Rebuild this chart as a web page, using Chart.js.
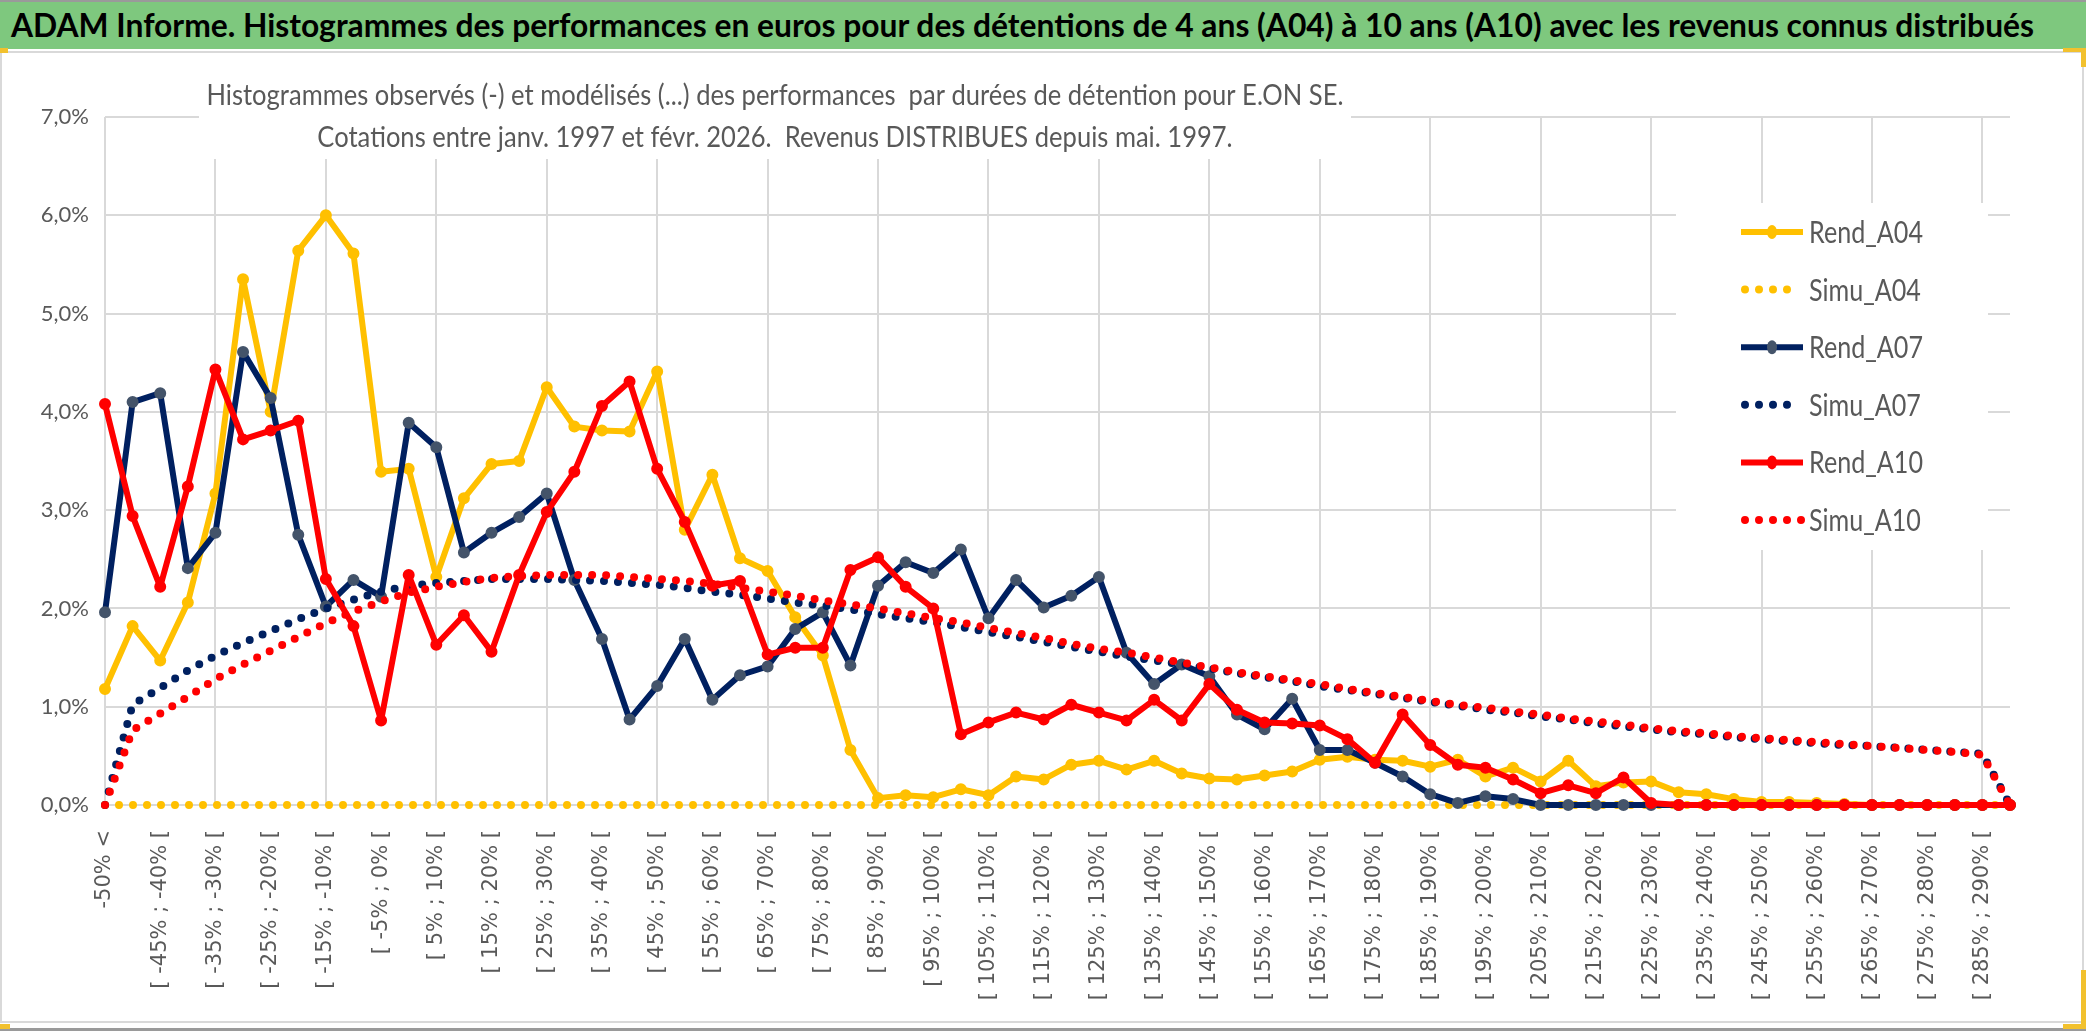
<!DOCTYPE html>
<html lang="fr">
<head>
<meta charset="utf-8">
<title>ADAM Informe - E.ON SE</title>
<script src="https://cdn.jsdelivr.net/npm/chart.js@4.4.1/dist/chart.umd.min.js"></script>
<style>
  body { margin: 0; background: #fff; }
  #page { position: relative; width: 2086px; height: 1031px; overflow: hidden; background: #fff; }
  #head { position: absolute; left: 0; top: 0; width: 2086px; height: 49px; background: #7ec87e;
          border-top: 2px solid #9a9a9a; box-sizing: border-box; }
  #ttl { position: absolute; left: 11px; top: 4px; font: bold 32px Lato, sans-serif; line-height: 38px;
         color: #000; white-space: nowrap; transform-origin: 0 0; }
  #frame { position: absolute; left: 0; top: 51px; width: 2084px; height: 972px;
           border: 2px solid #d9d9d9; box-sizing: border-box; }
  #box { position: relative; width: 2080px; height: 968px; }
  #bottom { position: absolute; left: 0; top: 1028px; width: 2086px; height: 3px; background: #9a9a9a; }
  .hdl { position: absolute; background: #f2c12e; }
</style>
</head>
<body>
<div id="page">
  <div id="head"><span id="ttl">ADAM Informe. Histogrammes des performances en euros pour des détentions de 4 ans (A04) à 10 ans (A10) avec les revenus connus distribués</span></div>
  <div id="frame"><div id="box"><canvas id="chart"></canvas></div></div>
  <div id="bottom"></div>
  <div class="hdl" style="left:0;top:48px;width:8px;height:5px"></div>
  <div class="hdl" style="left:2063px;top:48px;width:23px;height:4px"></div>
  <div class="hdl" style="left:2081px;top:48px;width:5px;height:19px"></div>
  <div class="hdl" style="left:0;top:1024px;width:10px;height:5px"></div>
  <div class="hdl" style="left:2063px;top:1024px;width:23px;height:5px"></div>
  <div class="hdl" style="left:2081px;top:970px;width:5px;height:58px"></div>
</div>
<script>
// classes de performance (axe des x)
const categories = [
  '-50% <', '[ -50% ; -45% [', '[ -45% ; -40% [', '[ -40% ; -35% [', '[ -35% ; -30% [', '[ -30% ; -25% [',
  '[ -25% ; -20% [', '[ -20% ; -15% [', '[ -15% ; -10% [', '[ -10% ; -5% [', '[ -5% ; 0% [',
  '[ 0% ; 5% [', '[ 5% ; 10% [', '[ 10% ; 15% [', '[ 15% ; 20% [', '[ 20% ; 25% [', '[ 25% ; 30% [',
  '[ 30% ; 35% [', '[ 35% ; 40% [', '[ 40% ; 45% [', '[ 45% ; 50% [', '[ 50% ; 55% [', '[ 55% ; 60% [',
  '[ 60% ; 65% [', '[ 65% ; 70% [', '[ 70% ; 75% [', '[ 75% ; 80% [', '[ 80% ; 85% [', '[ 85% ; 90% [',
  '[ 90% ; 95% [', '[ 95% ; 100% [', '[ 100% ; 105% [', '[ 105% ; 110% [', '[ 110% ; 115% [',
  '[ 115% ; 120% [', '[ 120% ; 125% [', '[ 125% ; 130% [', '[ 130% ; 135% [', '[ 135% ; 140% [',
  '[ 140% ; 145% [', '[ 145% ; 150% [', '[ 150% ; 155% [', '[ 155% ; 160% [', '[ 160% ; 165% [',
  '[ 165% ; 170% [', '[ 170% ; 175% [', '[ 175% ; 180% [', '[ 180% ; 185% [', '[ 185% ; 190% [',
  '[ 190% ; 195% [', '[ 195% ; 200% [', '[ 200% ; 205% [', '[ 205% ; 210% [', '[ 210% ; 215% [',
  '[ 215% ; 220% [', '[ 220% ; 225% [', '[ 225% ; 230% [', '[ 230% ; 235% [', '[ 235% ; 240% [',
  '[ 240% ; 245% [', '[ 245% ; 250% [', '[ 250% ; 255% [', '[ 255% ; 260% [', '[ 260% ; 265% [',
  '[ 265% ; 270% [', '[ 270% ; 275% [', '[ 275% ; 280% [', '[ 280% ; 285% [', '[ 285% ; 290% [',
  '[ 290% ; 295% ['
];

// fréquences en %
const rendA04 = [
  1.18, 1.82, 1.47, 2.06, 3.17, 5.35, 4.00, 5.64, 6.00, 5.61,
  3.39, 3.42, 2.32, 3.12, 3.47, 3.50, 4.25, 3.85, 3.81, 3.80,
  4.41, 2.80, 3.36, 2.51, 2.38, 1.91, 1.52, 0.56, 0.07, 0.10,
  0.08, 0.16, 0.10, 0.29, 0.26, 0.41, 0.45, 0.36, 0.45, 0.32,
  0.27, 0.26, 0.30, 0.34, 0.46, 0.49, 0.46, 0.45, 0.39, 0.46,
  0.29, 0.38, 0.24, 0.45, 0.19, 0.23, 0.24, 0.13, 0.11, 0.06,
  0.03, 0.03, 0.02, 0.01, 0, 0, 0, 0, 0, 0
];
const simuA04 = [
  0, 0, 0, 0, 0, 0, 0, 0, 0, 0, 0, 0, 0, 0, 0, 0, 0, 0, 0, 0,
  0, 0, 0, 0, 0, 0, 0, 0, 0, 0, 0, 0, 0, 0, 0, 0, 0, 0, 0, 0,
  0, 0, 0, 0, 0, 0, 0, 0, 0, 0, 0, 0, 0, 0, 0, 0, 0, 0, 0, 0,
  0, 0, 0, 0, 0, 0, 0, 0, 0, 0
];
const rendA07 = [
  1.96, 4.10, 4.19, 2.41, 2.77, 4.61, 4.14, 2.75, 2.02, 2.29,
  2.12, 3.89, 3.64, 2.57, 2.77, 2.93, 3.17, 2.29, 1.69, 0.87,
  1.21, 1.69, 1.07, 1.32, 1.41, 1.79, 1.96, 1.42, 2.23, 2.47,
  2.36, 2.60, 1.90, 2.29, 2.01, 2.13, 2.32, 1.55, 1.23, 1.43,
  1.31, 0.92, 0.77, 1.08, 0.56, 0.56, 0.43, 0.29, 0.11, 0.02,
  0.09, 0.06, 0, 0, 0, 0, 0, 0, 0, 0,
  0, 0, 0, 0, 0, 0, 0, 0, 0, 0
];
const simuA07 = [
  0, 1.02, 1.19, 1.37, 1.52, 1.65, 1.77, 1.89, 2.00, 2.09,
  2.17, 2.23, 2.26, 2.28, 2.30, 2.30, 2.30, 2.29, 2.28, 2.26,
  2.24, 2.21, 2.17, 2.14, 2.10, 2.06, 2.03, 1.99, 1.94, 1.90,
  1.86, 1.81, 1.76, 1.71, 1.66, 1.61, 1.56, 1.51, 1.47, 1.43,
  1.39, 1.34, 1.30, 1.26, 1.21, 1.17, 1.13, 1.09, 1.05, 1.01,
  0.97, 0.94, 0.90, 0.87, 0.83, 0.80, 0.77, 0.74, 0.72, 0.69,
  0.67, 0.65, 0.63, 0.61, 0.60, 0.58, 0.56, 0.54, 0.52, 0
];
const rendA10 = [
  4.08, 2.94, 2.22, 3.24, 4.43, 3.72, 3.81, 3.91, 2.30, 1.82,
  0.86, 2.34, 1.63, 1.93, 1.56, 2.34, 2.98, 3.39, 4.06, 4.31,
  3.42, 2.88, 2.23, 2.28, 1.53, 1.60, 1.60, 2.39, 2.52, 2.22,
  2.00, 0.72, 0.84, 0.94, 0.87, 1.02, 0.94, 0.86, 1.07, 0.86,
  1.23, 0.97, 0.84, 0.83, 0.81, 0.67, 0.43, 0.92, 0.61, 0.41,
  0.38, 0.26, 0.12, 0.20, 0.12, 0.28, 0.02, 0, 0, 0,
  0, 0, 0, 0, 0, 0, 0, 0, 0, 0
];
const simuA10 = [
  0, 0.76, 0.93, 1.10, 1.28, 1.43, 1.57, 1.71, 1.85, 1.97,
  2.07, 2.16, 2.22, 2.27, 2.31, 2.33, 2.34, 2.34, 2.34, 2.32,
  2.30, 2.28, 2.25, 2.21, 2.17, 2.13, 2.08, 2.04, 2.00, 1.95,
  1.90, 1.86, 1.80, 1.75, 1.70, 1.64, 1.59, 1.55, 1.50, 1.45,
  1.40, 1.35, 1.31, 1.27, 1.23, 1.18, 1.14, 1.10, 1.06, 1.02,
  0.99, 0.95, 0.92, 0.88, 0.85, 0.82, 0.78, 0.75, 0.73, 0.70,
  0.68, 0.66, 0.64, 0.62, 0.60, 0.58, 0.56, 0.54, 0.51, 0
];

const yTickLabels = ['0,0%', '1,0%', '2,0%', '3,0%', '4,0%', '5,0%', '6,0%', '7,0%'];

const subtitle = [
  'Histogrammes observés (-) et modélisés (...) des performances  par durées de détention pour E.ON SE.',
  'Cotations entre janv. 1997 et févr. 2026.  Revenus DISTRIBUES depuis mai. 1997.'
];

const YELLOW = '#ffc000', NAVY = '#002060', RED = '#ff0000', GREY = '#595959', GRID = '#d9d9d9';

function rend(label, data, color, marker, order) {
  return {
    label, data, order,
    borderColor: color, backgroundColor: color,
    borderWidth: 6, borderJoinStyle: 'round', borderCapStyle: 'round',
    pointRadius: 5, pointBorderWidth: 2,
    pointBackgroundColor: marker, pointBorderColor: marker,
    tension: 0, clip: false
  };
}
function simu(label, data, color, order) {
  return {
    label, data, order,
    borderColor: color, backgroundColor: color,
    borderWidth: 8, borderDash: [0, 14], borderCapStyle: 'round', borderJoinStyle: 'round',
    pointRadius: 0, tension: 0, clip: false
  };
}

// fit the green header title on the width of the bar
function fitTitle() {
  const ttl = document.getElementById('ttl');
  ttl.style.transform = 'none';
  const w = ttl.getBoundingClientRect().width;
  ttl.style.transform = 'scaleX(' + (2023 / w) + ')';
}
fitTitle();

// chart title + legend, drawn inside the plot like in Excel
const overlay = {
  id: 'overlay',
  beforeDatasetsDraw(chart) {
    const ctx = chart.ctx;
    ctx.save();
    ctx.fillStyle = '#fff';
    ctx.fillRect(197, 0, 1152, 106);     // behind the title
    ctx.fillRect(1674, 150, 312, 347);   // behind the legend
    ctx.restore();
  },
  afterDraw(chart) {
    const ctx = chart.ctx;
    ctx.save();
    ctx.fillStyle = GREY;
    ctx.textBaseline = 'middle';
    ctx.textAlign = 'center';
    ctx.font = '29px Lato, sans-serif';
    const sx = 1137 / ctx.measureText(subtitle[0]).width;
    [43, 85].forEach((y, i) => {
      ctx.save();
      ctx.translate(773, y);
      ctx.scale(sx, 1);
      ctx.fillText(subtitle[i], 0, 0);
      ctx.restore();
    });

    // legend
    ctx.font = '31px Lato, sans-serif';
    ctx.textAlign = 'left';
    const lx = 1739, lw = 62, tx = 1807;
    const ls = 114 / ctx.measureText('Rend_A04').width;
    chart.data.datasets.forEach((ds, k) => {
      const y = 179 + k * 57.6;
      ctx.save();
      ctx.strokeStyle = ds.borderColor;
      ctx.lineWidth = ds.borderWidth;
      ctx.beginPath();
      if (ds.borderDash) {
        ctx.lineCap = 'round';
        ctx.setLineDash(ds.borderDash);
        ctx.moveTo(lx + 4, y);
        ctx.lineTo(lx + lw - (ds.label === 'Simu_A10' ? 0 : 10), y);
      } else {
        ctx.lineCap = 'butt';
        ctx.moveTo(lx, y);
        ctx.lineTo(lx + lw, y);
      }
      ctx.stroke();
      if (!ds.borderDash) {
        ctx.fillStyle = ds.pointBackgroundColor;
        ctx.beginPath();
        ctx.ellipse(lx + lw / 2, y, 5, 7, 0, 0, Math.PI * 2);
        ctx.fill();
      }
      ctx.restore();
      ctx.save();
      ctx.fillStyle = GREY;
      ctx.translate(tx, y);
      ctx.scale(ls, 1);
      ctx.fillText(ds.label, 0, 1);
      ctx.restore();
    });
    ctx.restore();
  }
};

const ctx = document.getElementById('chart').getContext('2d');
new Chart(ctx, {
  type: 'line',
  data: {
    labels: categories,
    datasets: [
      rend('Rend_A04', rendA04, YELLOW, YELLOW, 6),
      simu('Simu_A04', simuA04, YELLOW, 5),
      rend('Rend_A07', rendA07, NAVY, '#44546a', 4),
      simu('Simu_A07', simuA07, NAVY, 3),
      rend('Rend_A10', rendA10, RED, RED, 2),
      simu('Simu_A10', simuA10, RED, 1)
    ]
  },
  options: {
    responsive: true,
    maintainAspectRatio: false,
    animation: false,
    layout: { padding: { top: 64, right: 72, bottom: 0, left: 0 } },
    plugins: {
      legend: { display: false },
      title: { display: false },
      tooltip: { enabled: false }
    },
    scales: {
      x: {
        offset: false,
        afterFit: s => { s.height = 216; },
        grid: {
          color: c => (c.index % 4 === 0 ? GRID : 'rgba(0,0,0,0)'),
          lineWidth: 2,
          drawTicks: false
        },
        border: { display: true, color: GRID, width: 2 },
        ticks: {
          autoSkip: false,
          maxRotation: 90,
          minRotation: 90,
          padding: 25,
          color: GREY,
          font: { family: 'DejaVu Sans', size: 21 },
          callback: (v, i) => (i % 2 === 0 ? categories[i] : '')
        }
      },
      y: {
        min: 0,
        max: 7,
        afterFit: s => { s.width = 103; },
        grid: { color: GRID, lineWidth: 2, drawTicks: false },
        border: { display: false },
        ticks: {
          stepSize: 1,
          padding: 16,
          color: GREY,
          font: { family: 'Lato', size: 22 },
          callback: v => yTickLabels[Math.round(v)]
        }
      }
    }
  },
  plugins: [overlay]
});

if (document.fonts && document.fonts.ready) document.fonts.ready.then(fitTitle);
</script>
</body>
</html>
